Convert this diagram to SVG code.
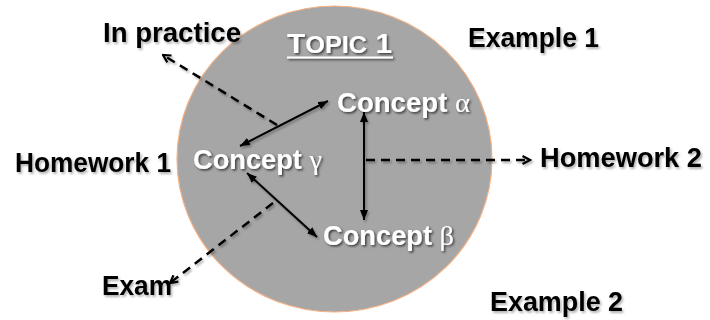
<svg xmlns="http://www.w3.org/2000/svg" width="710" height="320" viewBox="0 0 710 320">
<defs>
<style>
.lbl{font-family:"Liberation Sans",Arial,sans-serif;font-weight:bold;font-size:27px;fill:#000;}
.con{font-family:"Liberation Sans",Arial,sans-serif;font-weight:bold;font-size:27px;fill:#fff;}
.gr{font-family:"Liberation Serif","DejaVu Serif",serif;font-weight:normal;font-size:28px;}
.solid{stroke:#000;stroke-width:2;fill:none;}
.dash{stroke:#000;stroke-width:2.5;fill:none;stroke-dasharray:9 6;}
</style>
<filter id="shw" x="-20%" y="-30%" width="140%" height="170%">
<feDropShadow dx="1.5" dy="1.5" stdDeviation="1" flood-color="#000" flood-opacity="0.65"/>
</filter>
<filter id="shb" x="-20%" y="-30%" width="140%" height="170%">
<feDropShadow dx="1.5" dy="2" stdDeviation="1.2" flood-color="#000" flood-opacity="0.3"/>
</filter>
<marker id="ah" viewBox="0 0 10 8" refX="10" refY="4" markerWidth="10" markerHeight="8" markerUnits="userSpaceOnUse" orient="auto-start-reverse">
<path d="M0,0 L10,4 L0,8 z" fill="#000"/>
</marker>
<marker id="av" viewBox="0 0 10 10" refX="8.5" refY="5" markerWidth="10" markerHeight="10" markerUnits="userSpaceOnUse" orient="auto">
<path d="M1,1 L8.5,5 L1,9" fill="none" stroke="#000" stroke-width="2.2"/>
</marker>
</defs>
<rect width="710" height="320" fill="#fff"/>
<g id="topic-circle">
<ellipse cx="334.5" cy="159" rx="157.5" ry="153" fill="#a6a6a6" stroke="#f4b183" stroke-width="1.2"/>
</g>
<g id="topic-title" filter="url(#shw)">
<text class="con" x="287" y="53" font-size="30" textLength="105" lengthAdjust="spacingAndGlyphs">T<tspan font-size="23">OPIC</tspan> 1</text>
<line x1="287" y1="57.5" x2="393" y2="57.5" stroke="#fff" stroke-width="2.2"/>
</g>
<g id="connectors" filter="url(#shb)">
<line class="solid" x1="240" y1="146" x2="328" y2="101" marker-start="url(#ah)" marker-end="url(#ah)"/>
<line class="solid" x1="247" y1="173" x2="317" y2="237" marker-start="url(#ah)" marker-end="url(#ah)"/>
<line class="solid" x1="364" y1="112" x2="364" y2="220" marker-start="url(#ah)" marker-end="url(#ah)"/>
<line class="dash" x1="366" y1="160" x2="530" y2="160" marker-end="url(#av)"/>
<line class="dash" x1="277" y1="125" x2="163" y2="55" marker-end="url(#av)"/>
<line class="dash" x1="273" y1="203" x2="170" y2="283" marker-end="url(#av)"/>
</g>
<g id="concept-alpha" filter="url(#shw)">
<text class="con" x="337" y="112" textLength="133" lengthAdjust="spacingAndGlyphs">Concept <tspan class="gr">α</tspan></text>
</g>
<g id="concept-gamma" filter="url(#shw)">
<text class="con" x="193" y="169" textLength="129" lengthAdjust="spacingAndGlyphs">Concept <tspan class="gr">γ</tspan></text>
</g>
<g id="concept-beta" filter="url(#shw)">
<text class="con" x="323" y="245" textLength="131" lengthAdjust="spacingAndGlyphs">Concept <tspan class="gr">β</tspan></text>
</g>
<g id="in-practice" filter="url(#shb)">
<text class="lbl" x="103" y="42" textLength="138" lengthAdjust="spacingAndGlyphs">In practice</text>
</g>
<g id="example-1" filter="url(#shb)">
<text class="lbl" x="468" y="47" textLength="131" lengthAdjust="spacingAndGlyphs">Example 1</text>
</g>
<g id="homework-1" filter="url(#shb)">
<text class="lbl" x="15" y="172" textLength="156" lengthAdjust="spacingAndGlyphs">Homework 1</text>
</g>
<g id="homework-2" filter="url(#shb)">
<text class="lbl" x="540" y="167" textLength="162" lengthAdjust="spacingAndGlyphs">Homework 2</text>
</g>
<g id="exam" filter="url(#shb)">
<text class="lbl" x="102" y="295" textLength="70" lengthAdjust="spacingAndGlyphs">Exam</text>
</g>
<g id="example-2" filter="url(#shb)">
<text class="lbl" x="490" y="311" textLength="133" lengthAdjust="spacingAndGlyphs">Example 2</text>
</g>
</svg>
